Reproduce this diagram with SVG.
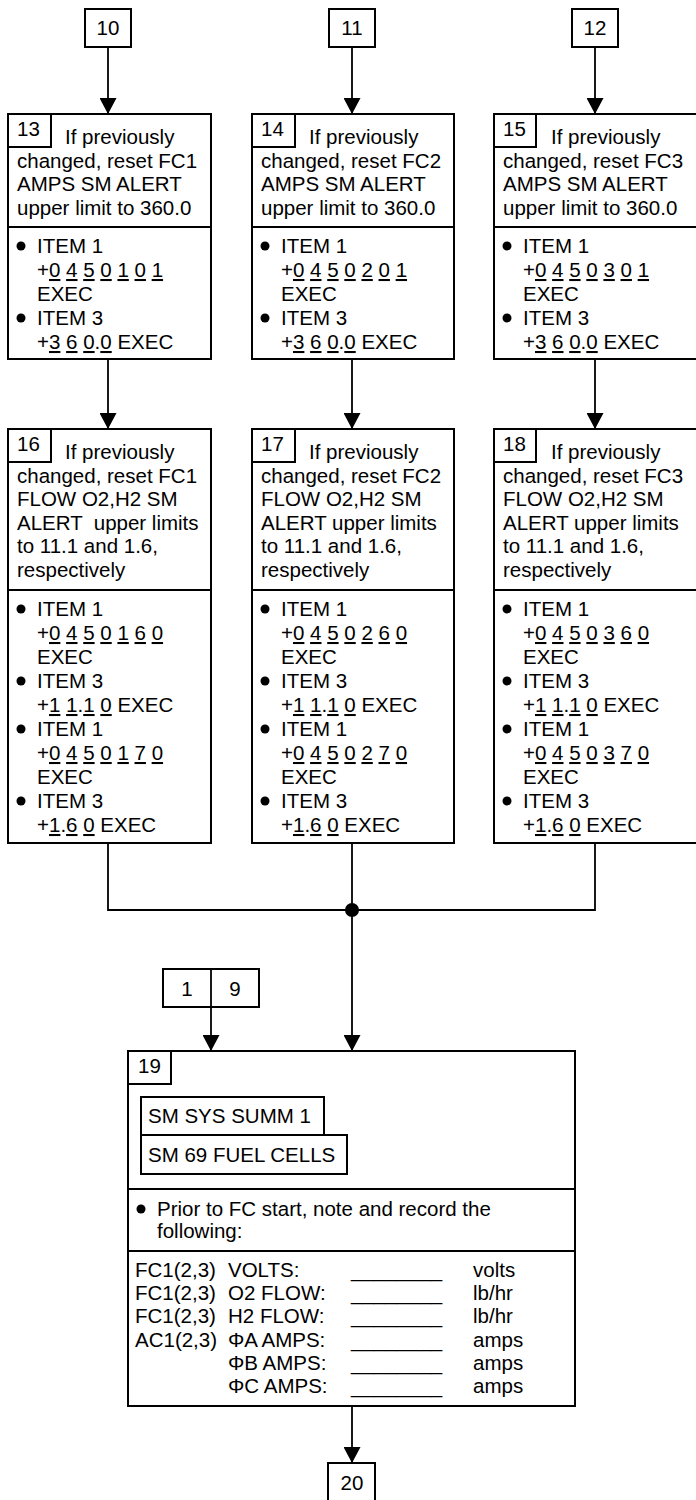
<svg xmlns="http://www.w3.org/2000/svg" width="696" height="1500" viewBox="0 0 696 1500">
<style>
text{font-family:"Liberation Sans",Arial,sans-serif;font-size:20.5px;fill:#000}
.c{text-anchor:middle}
.u{text-decoration:underline}
.b{fill:#fff;stroke:#000;stroke-width:2}
.s{stroke:#000;stroke-width:2;fill:none}
.w{stroke:#000;stroke-width:1.8;fill:none}
.d{fill:#000}
</style>
<defs>
<marker id="ah" markerUnits="userSpaceOnUse" markerWidth="16" markerHeight="17" refX="16" refY="8.5" orient="auto" viewBox="0 0 16 17">
<path d="M0,0 L16,8.5 L0,17 z" fill="#000"/>
</marker>
</defs>
<rect width="696" height="1500" fill="#fff"/>

<g id="connectors">
<line class="w" x1="108" y1="47" x2="108" y2="114" marker-end="url(#ah)"/>
<line class="w" x1="352" y1="47" x2="352" y2="114" marker-end="url(#ah)"/>
<line class="w" x1="595" y1="47" x2="595" y2="114" marker-end="url(#ah)"/>
<line class="w" x1="108" y1="359" x2="108" y2="429" marker-end="url(#ah)"/>
<line class="w" x1="352" y1="359" x2="352" y2="429" marker-end="url(#ah)"/>
<line class="w" x1="595" y1="359" x2="595" y2="429" marker-end="url(#ah)"/>
<polyline class="w" points="108,843 108,910 595,910 595,843"/>
<line class="w" x1="352" y1="843" x2="352" y2="910"/>
<circle class="d" cx="352" cy="910" r="7"/>
<line class="w" x1="352" y1="910" x2="352" y2="1051" marker-end="url(#ah)"/>
<line class="w" x1="211" y1="1007" x2="211" y2="1051" marker-end="url(#ah)"/>
<line class="w" x1="352" y1="1406" x2="352" y2="1463" marker-end="url(#ah)"/>
</g>

<g id="n10"><rect class="b" x="85" y="9" width="46" height="38"/><text class="c" x="108" y="35">10</text></g>
<g id="n11"><rect class="b" x="329" y="9" width="46" height="38"/><text class="c" x="352" y="35">11</text></g>
<g id="n12"><rect class="b" x="572" y="9" width="46" height="38"/><text class="c" x="595" y="35">12</text></g>

<g id="n13">
<rect class="b" x="8" y="114" width="203" height="245"/>
<rect class="b" x="8" y="114" width="43" height="33"/>
<line class="s" x1="8" y1="227" x2="211" y2="227"/>
<text x="17" y="136">13</text>
<text x="65" y="144">If previously</text>
<text x="17" y="167.5">changed, reset FC1</text>
<text x="17" y="191">AMPS SM ALERT</text>
<text x="17" y="214.5">upper limit to 360.0</text>
<circle class="d" cx="21" cy="246" r="4.5"/>
<text x="37" y="253">ITEM 1</text>
<text x="37" y="277">+<tspan class="u">0</tspan> <tspan class="u">4</tspan> <tspan class="u">5</tspan> <tspan class="u">0</tspan> <tspan class="u">1</tspan> <tspan class="u">0</tspan> <tspan class="u">1</tspan></text>
<text x="37" y="301">EXEC</text>
<circle class="d" cx="21" cy="318" r="4.5"/>
<text x="37" y="325">ITEM 3</text>
<text x="37" y="349">+<tspan class="u">3</tspan> <tspan class="u">6</tspan> <tspan class="u">0</tspan>.<tspan class="u">0</tspan> EXEC</text>
</g>

<g id="n14">
<rect class="b" x="252" y="114" width="202" height="245"/>
<rect class="b" x="252" y="114" width="43" height="33"/>
<line class="s" x1="252" y1="227" x2="454" y2="227"/>
<text x="261" y="136">14</text>
<text x="309" y="144">If previously</text>
<text x="261" y="167.5">changed, reset FC2</text>
<text x="261" y="191">AMPS SM ALERT</text>
<text x="261" y="214.5">upper limit to 360.0</text>
<circle class="d" cx="265" cy="246" r="4.5"/>
<text x="281" y="253">ITEM 1</text>
<text x="281" y="277">+<tspan class="u">0</tspan> <tspan class="u">4</tspan> <tspan class="u">5</tspan> <tspan class="u">0</tspan> <tspan class="u">2</tspan> <tspan class="u">0</tspan> <tspan class="u">1</tspan></text>
<text x="281" y="301">EXEC</text>
<circle class="d" cx="265" cy="318" r="4.5"/>
<text x="281" y="325">ITEM 3</text>
<text x="281" y="349">+<tspan class="u">3</tspan> <tspan class="u">6</tspan> <tspan class="u">0</tspan>.<tspan class="u">0</tspan> EXEC</text>
</g>

<g id="n15">
<rect class="b" x="494" y="114" width="204" height="245"/>
<rect class="b" x="494" y="114" width="42" height="33"/>
<line class="s" x1="494" y1="227" x2="698" y2="227"/>
<text x="503" y="136">15</text>
<text x="551" y="144">If previously</text>
<text x="503" y="167.5">changed, reset FC3</text>
<text x="503" y="191">AMPS SM ALERT</text>
<text x="503" y="214.5">upper limit to 360.0</text>
<circle class="d" cx="507" cy="246" r="4.5"/>
<text x="523" y="253">ITEM 1</text>
<text x="523" y="277">+<tspan class="u">0</tspan> <tspan class="u">4</tspan> <tspan class="u">5</tspan> <tspan class="u">0</tspan> <tspan class="u">3</tspan> <tspan class="u">0</tspan> <tspan class="u">1</tspan></text>
<text x="523" y="301">EXEC</text>
<circle class="d" cx="507" cy="318" r="4.5"/>
<text x="523" y="325">ITEM 3</text>
<text x="523" y="349">+<tspan class="u">3</tspan> <tspan class="u">6</tspan> <tspan class="u">0</tspan>.<tspan class="u">0</tspan> EXEC</text>
</g>

<g id="n16">
<rect class="b" x="8" y="429" width="203" height="414"/>
<rect class="b" x="8" y="429" width="43" height="33"/>
<line class="s" x1="8" y1="590" x2="211" y2="590"/>
<text x="17" y="451">16</text>
<text x="65" y="459">If previously</text>
<text x="17" y="482.5">changed, reset FC1</text>
<text x="17" y="506">FLOW O2,H2 SM</text>
<text x="17" y="529.5" xml:space="preserve">ALERT  upper limits</text>
<text x="17" y="553">to 11.1 and 1.6,</text>
<text x="17" y="576.5">respectively</text>
<circle class="d" cx="21" cy="609" r="4.5"/>
<text x="37" y="616">ITEM 1</text>
<text x="37" y="640">+<tspan class="u">0</tspan> <tspan class="u">4</tspan> <tspan class="u">5</tspan> <tspan class="u">0</tspan> <tspan class="u">1</tspan> <tspan class="u">6</tspan> <tspan class="u">0</tspan></text>
<text x="37" y="664">EXEC</text>
<circle class="d" cx="21" cy="681" r="4.5"/>
<text x="37" y="688">ITEM 3</text>
<text x="37" y="712">+<tspan class="u">1</tspan> <tspan class="u">1</tspan>.<tspan class="u">1</tspan> <tspan class="u">0</tspan> EXEC</text>
<circle class="d" cx="21" cy="729" r="4.5"/>
<text x="37" y="736">ITEM 1</text>
<text x="37" y="760">+<tspan class="u">0</tspan> <tspan class="u">4</tspan> <tspan class="u">5</tspan> <tspan class="u">0</tspan> <tspan class="u">1</tspan> <tspan class="u">7</tspan> <tspan class="u">0</tspan></text>
<text x="37" y="784">EXEC</text>
<circle class="d" cx="21" cy="801" r="4.5"/>
<text x="37" y="808">ITEM 3</text>
<text x="37" y="832">+<tspan class="u">1</tspan>.<tspan class="u">6</tspan> <tspan class="u">0</tspan> EXEC</text>
</g>

<g id="n17">
<rect class="b" x="252" y="429" width="202" height="414"/>
<rect class="b" x="252" y="429" width="43" height="33"/>
<line class="s" x1="252" y1="590" x2="454" y2="590"/>
<text x="261" y="451">17</text>
<text x="309" y="459">If previously</text>
<text x="261" y="482.5">changed, reset FC2</text>
<text x="261" y="506">FLOW O2,H2 SM</text>
<text x="261" y="529.5">ALERT upper limits</text>
<text x="261" y="553">to 11.1 and 1.6,</text>
<text x="261" y="576.5">respectively</text>
<circle class="d" cx="265" cy="609" r="4.5"/>
<text x="281" y="616">ITEM 1</text>
<text x="281" y="640">+<tspan class="u">0</tspan> <tspan class="u">4</tspan> <tspan class="u">5</tspan> <tspan class="u">0</tspan> <tspan class="u">2</tspan> <tspan class="u">6</tspan> <tspan class="u">0</tspan></text>
<text x="281" y="664">EXEC</text>
<circle class="d" cx="265" cy="681" r="4.5"/>
<text x="281" y="688">ITEM 3</text>
<text x="281" y="712">+<tspan class="u">1</tspan> <tspan class="u">1</tspan>.<tspan class="u">1</tspan> <tspan class="u">0</tspan> EXEC</text>
<circle class="d" cx="265" cy="729" r="4.5"/>
<text x="281" y="736">ITEM 1</text>
<text x="281" y="760">+<tspan class="u">0</tspan> <tspan class="u">4</tspan> <tspan class="u">5</tspan> <tspan class="u">0</tspan> <tspan class="u">2</tspan> <tspan class="u">7</tspan> <tspan class="u">0</tspan></text>
<text x="281" y="784">EXEC</text>
<circle class="d" cx="265" cy="801" r="4.5"/>
<text x="281" y="808">ITEM 3</text>
<text x="281" y="832">+<tspan class="u">1</tspan>.<tspan class="u">6</tspan> <tspan class="u">0</tspan> EXEC</text>
</g>

<g id="n18">
<rect class="b" x="494" y="429" width="204" height="414"/>
<rect class="b" x="494" y="429" width="42" height="33"/>
<line class="s" x1="494" y1="590" x2="698" y2="590"/>
<text x="503" y="451">18</text>
<text x="551" y="459">If previously</text>
<text x="503" y="482.5">changed, reset FC3</text>
<text x="503" y="506">FLOW O2,H2 SM</text>
<text x="503" y="529.5">ALERT upper limits</text>
<text x="503" y="553">to 11.1 and 1.6,</text>
<text x="503" y="576.5">respectively</text>
<circle class="d" cx="507" cy="609" r="4.5"/>
<text x="523" y="616">ITEM 1</text>
<text x="523" y="640">+<tspan class="u">0</tspan> <tspan class="u">4</tspan> <tspan class="u">5</tspan> <tspan class="u">0</tspan> <tspan class="u">3</tspan> <tspan class="u">6</tspan> <tspan class="u">0</tspan></text>
<text x="523" y="664">EXEC</text>
<circle class="d" cx="507" cy="681" r="4.5"/>
<text x="523" y="688">ITEM 3</text>
<text x="523" y="712">+<tspan class="u">1</tspan> <tspan class="u">1</tspan>.<tspan class="u">1</tspan> <tspan class="u">0</tspan> EXEC</text>
<circle class="d" cx="507" cy="729" r="4.5"/>
<text x="523" y="736">ITEM 1</text>
<text x="523" y="760">+<tspan class="u">0</tspan> <tspan class="u">4</tspan> <tspan class="u">5</tspan> <tspan class="u">0</tspan> <tspan class="u">3</tspan> <tspan class="u">7</tspan> <tspan class="u">0</tspan></text>
<text x="523" y="784">EXEC</text>
<circle class="d" cx="507" cy="801" r="4.5"/>
<text x="523" y="808">ITEM 3</text>
<text x="523" y="832">+<tspan class="u">1</tspan>.<tspan class="u">6</tspan> <tspan class="u">0</tspan> EXEC</text>
</g>

<g id="n1_9">
<rect class="b" x="163" y="969" width="96" height="38"/>
<line class="w" x1="211" y1="969" x2="211" y2="1007"/>
<text class="c" x="187" y="996">1</text>
<text class="c" x="235" y="996">9</text>
</g>

<g id="n19">
<rect class="b" x="128" y="1051" width="447" height="355"/>
<rect class="b" x="128" y="1051" width="43" height="33"/>
<text x="138" y="1073">19</text>
<rect class="b" x="141" y="1097" width="183" height="38"/>
<text x="148" y="1123">SM SYS SUMM 1</text>
<rect class="b" x="141" y="1135" width="206" height="39"/>
<text x="148" y="1162">SM 69 FUEL CELLS</text>
<line class="s" x1="128" y1="1189" x2="575" y2="1189"/>
<circle class="d" cx="141" cy="1209" r="4.5"/>
<text x="157" y="1216">Prior to FC start, note and record the</text>
<text x="157" y="1238">following:</text>
<line class="s" x1="128" y1="1251" x2="575" y2="1251"/>
<text x="135" y="1277">FC1(2,3)</text><text x="228" y="1277">VOLTS:</text><text x="351" y="1277">________</text><text x="473" y="1277">volts</text>
<text x="135" y="1300">FC1(2,3)</text><text x="228" y="1300">O2 FLOW:</text><text x="351" y="1300">________</text><text x="473" y="1300">lb/hr</text>
<text x="135" y="1323">FC1(2,3)</text><text x="228" y="1323">H2 FLOW:</text><text x="351" y="1323">________</text><text x="473" y="1323">lb/hr</text>
<text x="135" y="1347">AC1(2,3)</text><text x="228" y="1347">ΦA AMPS:</text><text x="351" y="1347">________</text><text x="473" y="1347">amps</text>
<text x="228" y="1370">ΦB AMPS:</text><text x="351" y="1370">________</text><text x="473" y="1370">amps</text>
<text x="228" y="1393">ΦC AMPS:</text><text x="351" y="1393">________</text><text x="473" y="1393">amps</text>
</g>

<g id="n20">
<rect class="b" x="328" y="1463" width="47" height="38"/>
<text class="c" x="352" y="1490">20</text>
</g>
</svg>
